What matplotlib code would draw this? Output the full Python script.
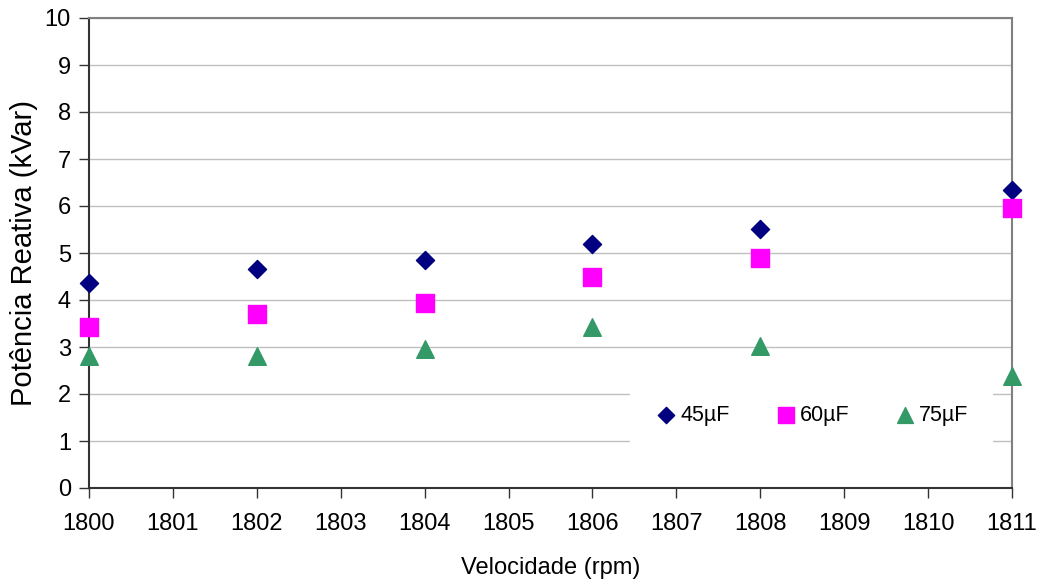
import matplotlib
matplotlib.use("Agg")
import matplotlib.pyplot as plt
from matplotlib.patches import Rectangle

plt.rcParams['font.family'] = ['Liberation Sans', 'DejaVu Sans']

velocidade = [1800, 1802, 1804, 1806, 1808, 1811]
q45 = [4.36, 4.66, 4.85, 5.19, 5.51, 6.34]
q60 = [3.43, 3.70, 3.94, 4.49, 4.89, 5.96]
q75 = [2.81, 2.81, 2.96, 3.43, 3.02, 2.38]
labels = ['45µF', '60µF', '75µF']

W, H = 1042, 584
fig = plt.figure(figsize=(W / 100, H / 100), dpi=100)
ax = fig.add_axes([89 / W, 1 - 488 / H, (1012 - 89) / W, (488 - 18) / H])

ax.set_xlim(1800, 1811)
ax.set_ylim(0, 10)
ax.set_xticks(range(1800, 1812))
ax.set_yticks(range(0, 11))
ax.yaxis.grid(True, color='#c0c0c0', linewidth=1)
ax.set_axisbelow(True)

h1 = ax.scatter(velocidade, q45, marker='D', s=85, color='#000080', zorder=5, clip_on=False, label=labels[0])
h2 = ax.scatter(velocidade, q60, marker='s', s=160, color='#ff00ff', zorder=5, clip_on=False, label=labels[1])
h3 = ax.scatter(velocidade, q75, marker='^', s=160, color='#339966', zorder=5, clip_on=False, label=labels[2])

for s in ['top', 'right']:
    ax.spines[s].set_color('#808080')
    ax.spines[s].set_linewidth(1.5)
for s in ['left', 'bottom']:
    ax.spines[s].set_color('#333333')
    ax.spines[s].set_linewidth(1.5)

ax.tick_params(axis='both', direction='out', length=7, width=1, color='#333333', labelsize=17, pad=6)
ax.tick_params(axis='x', pad=11)
ax.set_xlabel('Velocidade (rpm)', fontsize=17, labelpad=16)
ax.set_ylabel('Potência Reativa (kVar)', fontsize=21, labelpad=5)

# white legend background covering gridlines
ax.add_patch(Rectangle(((630 - 89) / (1012 - 89), (488 - 446) / 470), (993 - 630) / (1012 - 89), (446 - 386) / 470,
                       transform=ax.transAxes, facecolor='white', edgecolor='none', zorder=2))

leg = ax.legend(handles=[h1, h2, h3], loc='center', bbox_to_anchor=((812 - 89) / (1012 - 89), (488 - 415) / 470),
                ncol=3, frameon=False, fontsize=15.5, handletextpad=0.15, columnspacing=2.1,
                handlelength=1.0, markerscale=0.9)

fig.savefig('out.png', dpi=100)
